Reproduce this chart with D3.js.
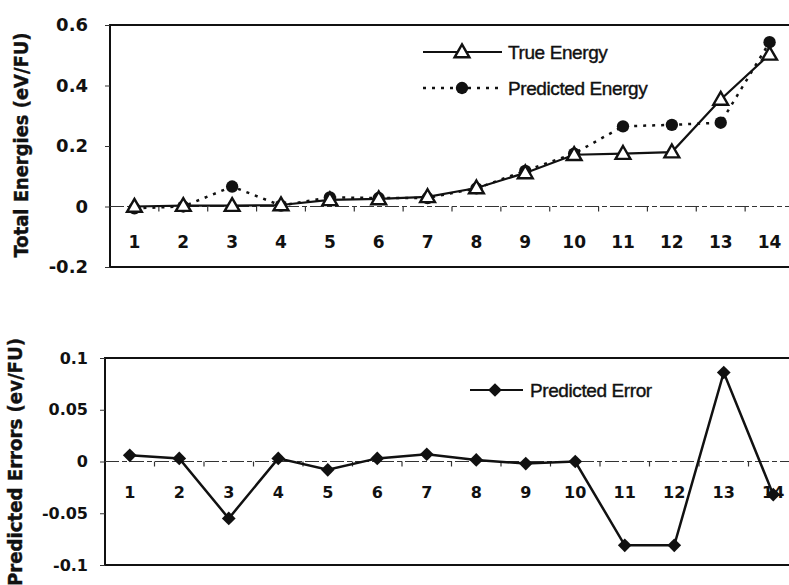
<!DOCTYPE html>
<html>
<head>
<meta charset="utf-8">
<script src="https://cdn.jsdelivr.net/npm/d3@7"></script>
<style>
  body { margin: 0; background: #fff; }
  svg { display: block; }
</style>
</head>
<body>
<div class="charts"></div>
<script>
// values
const categories = ["1", "2", "3", "4", "5", "6", "7", "8", "9", "10", "11", "12", "13", "14"];
const trueEnergy = [0.0, 0.003, 0.003, 0.005, 0.022, 0.025, 0.032, 0.061, 0.111, 0.171, 0.175, 0.18, 0.354, 0.503];
const predictedEnergy = [-0.006, 0.0, 0.066, 0.003, 0.03, 0.028, 0.028, 0.06, 0.118, 0.175, 0.265, 0.27, 0.277, 0.543];
const predictedError = [0.006, 0.003, -0.055, 0.003, -0.008, 0.003, 0.007, 0.0015, -0.002, 0.0, -0.081, -0.081, 0.086, -0.032];
const energyTicks = [0.6, 0.4, 0.2, 0, -0.2];
const energyTickLabels = ["0.6", "0.4", "0.2", "0", "-0.2"];
const errorTicks = [0.1, 0.05, 0, -0.05, -0.1];
const errorTickLabels = ["0.1", "0.05", "0", "-0.05", "-0.1"];

const W = 789, H = 585;
const boldFont = "'DejaVu Sans', sans-serif";
const plainFont = "'Liberation Sans', Arial, sans-serif";

const svg = d3.select('.charts').append('svg')
  .attr('width', W)
  .attr('height', H);

// draws one panel: frame, left axis, zero line with category ticks
function panel(cfg) {
  const g = svg.append('g');

  const x = d3.scalePoint()
    .domain(categories)
    .range([cfg.left, cfg.right])
    .padding(0.5);

  const y = d3.scaleLinear()
    .domain(cfg.domain)
    .range([cfg.bottom, cfg.top]);

  // frame (top, left, bottom)
  g.append('path')
    .attr('d', `M${W},${cfg.top}H${cfg.left}V${cfg.bottom}H${W}`)
    .attr('fill', 'none')
    .attr('stroke', '#111')
    .attr('stroke-width', 2);

  // left axis
  const yAxis = g.append('g')
    .attr('transform', `translate(${cfg.left},0)`)
    .call(d3.axisLeft(y)
      .tickValues(cfg.ticks)
      .tickFormat((d, i) => cfg.tickLabels[i])
      .tickSize(5)
      .tickPadding(cfg.tickPad));
  yAxis.select('.domain').remove();
  yAxis.selectAll('line').attr('stroke', '#333');
  yAxis.selectAll('text')
    .attr('font-family', boldFont)
    .attr('font-weight', 'bold')
    .attr('font-size', cfg.tickFont)
    .attr('fill', '#111');

  // zero line with ticks between categories
  const y0 = y(0);
  g.append('line')
    .attr('x1', cfg.left).attr('x2', W)
    .attr('y1', y0).attr('y2', y0)
    .attr('stroke', '#333')
    .attr('stroke-width', 1.2)
    .attr('stroke-dasharray', '14,3,5,3');

  const step = x.step();
  g.selectAll('.xtick')
    .data(categories.slice(1))
    .enter()
    .append('line')
    .attr('class', 'xtick')
    .attr('x1', d => x(d) - step / 2)
    .attr('x2', d => x(d) - step / 2)
    .attr('y1', y0)
    .attr('y2', y0 + 5)
    .attr('stroke', '#333')
    .attr('stroke-width', 1.2);

  g.selectAll('.xlabel')
    .data(categories)
    .enter()
    .append('text')
    .attr('class', 'xlabel')
    .attr('x', d => x(d))
    .attr('y', cfg.labelY)
    .attr('text-anchor', 'middle')
    .attr('font-family', boldFont)
    .attr('font-weight', 'bold')
    .attr('font-size', cfg.catFont)
    .attr('fill', '#111')
    .text(d => d);

  // axis title
  g.append('text')
    .attr('transform', `translate(${cfg.titleX},${cfg.titleY}) rotate(-90)`)
    .attr('text-anchor', 'middle')
    .attr('font-family', boldFont)
    .attr('font-weight', 'bold')
    .attr('font-size', 19)
    .attr('textLength', cfg.titleLen)
    .attr('lengthAdjust', 'spacingAndGlyphs')
    .attr('fill', '#111')
    .attr('stroke', '#111')
    .attr('stroke-width', 0.4)
    .text(cfg.title);

  return { g, x, y };
}

// ---- top panel: energies ----
const energyPanel = panel({
  left: 110, right: 794, top: 25, bottom: 267,
  domain: [-0.2, 0.6], ticks: energyTicks, tickLabels: energyTickLabels,
  tickPad: 17, tickFont: 18, catFont: 17, labelY: 248,
  title: 'Total Energies (eV/FU)', titleX: 28, titleY: 145, titleLen: 225
});

const triangle = d3.symbol().type(d3.symbolTriangle).size(95);
const circle = d3.symbol().type(d3.symbolCircle).size(120);
const diamond = d3.symbol().type(d3.symbolDiamond2).size(120);

const energyLine = d3.line()
  .x((d, i) => energyPanel.x(categories[i]))
  .y(d => energyPanel.y(d));

energyPanel.g.append('path')
  .datum(predictedEnergy)
  .attr('d', energyLine)
  .attr('fill', 'none')
  .attr('stroke', '#111')
  .attr('stroke-width', 2.5)
  .attr('stroke-dasharray', '3,6');

energyPanel.g.selectAll('.pred')
  .data(predictedEnergy)
  .enter()
  .append('path')
  .attr('class', 'pred')
  .attr('d', circle)
  .attr('transform', (d, i) => `translate(${energyPanel.x(categories[i])},${energyPanel.y(d)})`)
  .attr('fill', '#111');

energyPanel.g.append('path')
  .datum(trueEnergy)
  .attr('d', energyLine)
  .attr('fill', 'none')
  .attr('stroke', '#111')
  .attr('stroke-width', 2.2);

energyPanel.g.selectAll('.true')
  .data(trueEnergy)
  .enter()
  .append('path')
  .attr('class', 'true')
  .attr('d', triangle)
  .attr('transform', (d, i) => `translate(${energyPanel.x(categories[i])},${energyPanel.y(d) + 1})`)
  .attr('fill', '#fff')
  .attr('stroke', '#111')
  .attr('stroke-width', 2.4);

// legend
const leg = energyPanel.g.append('g');
leg.append('line')
  .attr('x1', 423).attr('x2', 502).attr('y1', 52).attr('y2', 52)
  .attr('stroke', '#111').attr('stroke-width', 2.2);
leg.append('path')
  .attr('d', triangle)
  .attr('transform', 'translate(462,53)')
  .attr('fill', '#fff').attr('stroke', '#111').attr('stroke-width', 2.4);
leg.append('text')
  .attr('x', 508).attr('y', 59)
  .attr('font-family', plainFont).attr('font-size', 19)
  .attr('letter-spacing', -0.4)
  .attr('fill', '#111').attr('stroke', '#111').attr('stroke-width', 0.4)
  .text('True Energy');

leg.append('line')
  .attr('x1', 423).attr('x2', 502).attr('y1', 88).attr('y2', 88)
  .attr('stroke', '#111').attr('stroke-width', 2.5)
  .attr('stroke-dasharray', '3,6');
leg.append('path')
  .attr('d', circle)
  .attr('transform', 'translate(462,88)')
  .attr('fill', '#111');
leg.append('text')
  .attr('x', 508).attr('y', 95)
  .attr('font-family', plainFont).attr('font-size', 19)
  .attr('letter-spacing', -0.4)
  .attr('fill', '#111').attr('stroke', '#111').attr('stroke-width', 0.4)
  .text('Predicted Energy');

// ---- bottom panel: errors ----
const errorPanel = panel({
  left: 105, right: 798, top: 358, bottom: 565,
  domain: [-0.1, 0.1], ticks: errorTicks, tickLabels: errorTickLabels,
  tickPad: 12, tickFont: 16, catFont: 16, labelY: 498,
  title: 'Predicted Errors (ev/FU)', titleX: 22, titleY: 462, titleLen: 248
});

const errorLine = d3.line()
  .x((d, i) => errorPanel.x(categories[i]))
  .y(d => errorPanel.y(d));

errorPanel.g.append('path')
  .datum(predictedError)
  .attr('d', errorLine)
  .attr('fill', 'none')
  .attr('stroke', '#111')
  .attr('stroke-width', 2.5);

errorPanel.g.selectAll('.err')
  .data(predictedError)
  .enter()
  .append('path')
  .attr('class', 'err')
  .attr('d', diamond)
  .attr('transform', (d, i) => `translate(${errorPanel.x(categories[i])},${errorPanel.y(d)})`)
  .attr('fill', '#111');

const leg2 = errorPanel.g.append('g');
leg2.append('line')
  .attr('x1', 470).attr('x2', 523).attr('y1', 390).attr('y2', 390)
  .attr('stroke', '#111').attr('stroke-width', 2.2);
leg2.append('path')
  .attr('d', diamond)
  .attr('transform', 'translate(495,390)')
  .attr('fill', '#111');
leg2.append('text')
  .attr('x', 530).attr('y', 397)
  .attr('font-family', plainFont).attr('font-size', 19)
  .attr('letter-spacing', -0.4)
  .attr('fill', '#111').attr('stroke', '#111').attr('stroke-width', 0.4)
  .text('Predicted Error');
</script>
</body>
</html>
